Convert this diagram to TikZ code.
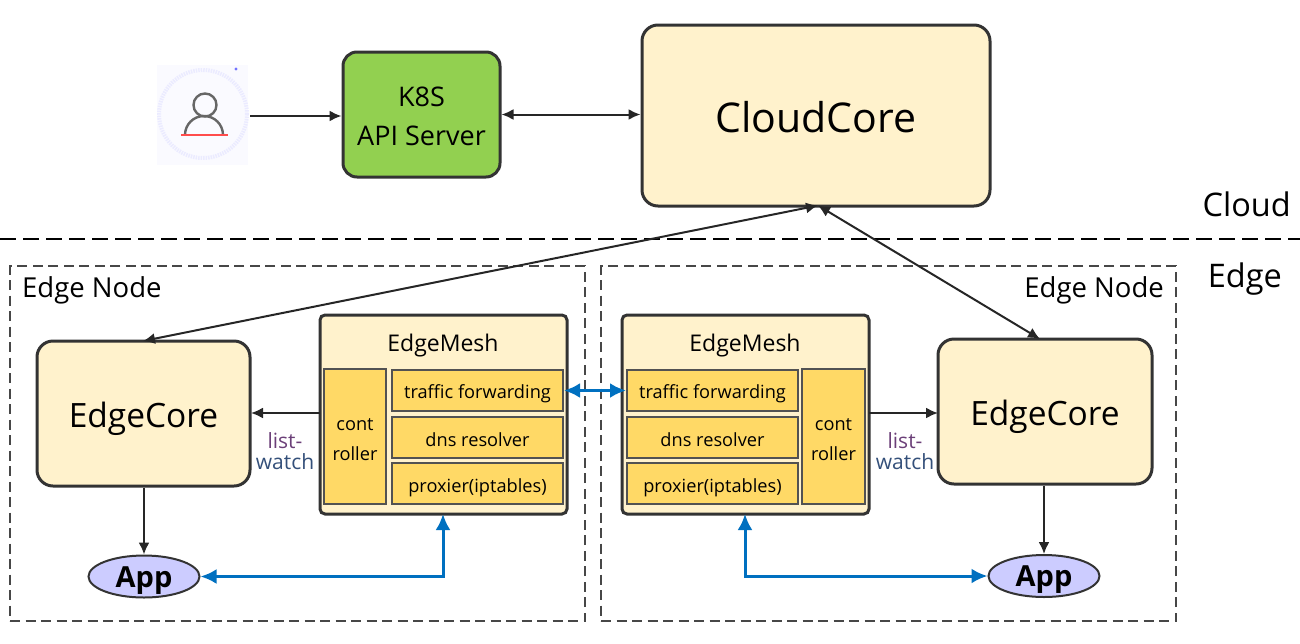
\documentclass[tikz,border=0pt]{standalone}
\usepackage{fontspec}
\setmainfont{Open Sans}
\usetikzlibrary{arrows.meta,shapes.geometric}
\definecolor{cream}{HTML}{FFF2CC}
\definecolor{gold}{HTML}{FFD966}
\definecolor{kgreen}{HTML}{92D050}
\definecolor{appblue}{HTML}{CCCCFF}
\definecolor{dk}{HTML}{333333}
\definecolor{mblue}{HTML}{0070C0}
\definecolor{lwa}{HTML}{6B3F78}
\definecolor{lwb}{HTML}{34507A}
\newcommand{\dnx}[2]{\raisebox{-#1pt}[\height][\depth]{#2}}
\tikzset{
  x=1pt,y=-1pt,
  corebox/.style={draw=dk,line width=3pt,rounded corners=16pt,fill=cream,text=black,align=center,inner sep=0pt},
  meshbox/.style={draw=dk,line width=3pt,rounded corners=5pt,fill=cream,inner sep=0pt},
  part/.style={draw=dk!85,line width=2pt,fill=gold,inner sep=0pt,align=center,font=\fontsize{18.2}{29}\selectfont},
  nodearea/.style={draw=dk!90,line width=1.7pt,dash pattern=on 10pt off 5.5pt,inner sep=0pt},
  appnode/.style={draw=dk,line width=2pt,ellipse,fill=appblue,inner sep=0pt,minimum width=111pt,minimum height=42pt,font=\fontsize{29}{34}\selectfont\bfseries},
  arr/.style={draw=black!85,line width=2pt,-{Latex[length=12pt,width=11pt]}},
  darr/.style={draw=black!85,line width=2pt,{Latex[length=12pt,width=11pt]}-{Latex[length=12pt,width=11pt]}},
  barr/.style={draw=mblue,line width=3pt,{Latex[length=16pt,width=15pt]}-{Latex[length=16pt,width=15pt]}},
  biglbl/.style={inner sep=0pt,font=\fontsize{32.5}{38}\selectfont},
  lbl/.style={inner sep=0pt,font=\fontsize{27.5}{32}\selectfont},
  mtitle/.style={inner sep=0pt,font=\fontsize{23}{28}\selectfont},
  lw/.style={inner sep=0pt,align=center,font=\fontsize{21}{21}\selectfont},
}
\begin{document}
\begin{tikzpicture}
\useasboundingbox (0,0) rectangle (1300,643);
% user icon
\fill[fill=blue!2] (157,65) rectangle (248,165);
\draw[blue!8,line width=4pt,dash pattern=on 1.5pt off 1pt] (203,114) circle (44);
\fill[blue!55!white] (236,69) circle (1.6);
\draw[black!60,line width=2.4pt] (205,105) circle (11.5);
\draw[black!60,line width=2.4pt] (185,135) arc[start angle=180,end angle=360,radius=19];
\draw[red!70,line width=2.2pt] (181,135) -- (228,135);
\coordinate (userout) at (250,116);
% cloud
\node[corebox,rounded corners=14pt,fill=kgreen,minimum width=157pt,minimum height=125pt,font=\fontsize{27}{39}\selectfont] (k8s) at (421.5,114.5) {\dnx{2}{K8S}\\\dnx{2}{API Server}};
\node[corebox,minimum width=348pt,minimum height=181pt,font=\fontsize{41}{48}\selectfont] (cloud) at (816,115.5) {\dnx{2}{CloudCore}};
\node[biglbl,anchor=base east] (cloudlbl) at (1291,216) {Cloud};
\node[biglbl,anchor=base east] (edgelbl) at (1282,287) {Edge};
\coordinate (divl) at (0,239);
\coordinate (divr) at (1300,239);
\draw[black,line width=2.6pt,dash pattern=on 16pt off 7pt] (divl) -- (divr);
% edge areas
\node[nodearea,minimum width=575pt,minimum height=355pt] (areal) at (297.5,443.5) {};
\node[nodearea,minimum width=575pt,minimum height=355pt] (arear) at (888.5,443.5) {};
\node[lbl,anchor=base west] (enl) at (22,297) {Edge Node};
\node[lbl,anchor=base east] (enr) at (1164,297) {Edge Node};
% edgecores
\node[corebox,minimum width=213pt,minimum height=145pt,font=\fontsize{33.5}{40}\selectfont] (ecl) at (143.5,413.5) {\dnx{5}{EdgeCore}};
\node[corebox,minimum width=214pt,minimum height=145pt,font=\fontsize{33.5}{40}\selectfont] (ecr) at (1045,411.5) {\dnx{5}{EdgeCore}};
% edgemesh left
\node[meshbox,minimum width=247pt,minimum height=199pt] (eml) at (443.5,414.5) {};
\node[mtitle] (emlt) at (443,346) {EdgeMesh};
\node[part,minimum width=62pt,minimum height=135pt] (ctl) at (355,436.5) {\dnx{3}{cont}\\\dnx{4}{roller}};
\node[part,minimum width=171pt,minimum height=41pt] (tfl) at (477.5,390.5) {\dnx{3}{traffic forwarding}};
\node[part,minimum width=171pt,minimum height=41pt] (dnl) at (477.5,437.5) {\dnx{2}{dns resolver}};
\node[part,minimum width=171pt,minimum height=41pt] (prl) at (477.5,483.5) {\dnx{4}{proxier(iptables)}};
% edgemesh right
\node[meshbox,minimum width=247pt,minimum height=199pt] (emr) at (745.5,414.5) {};
\node[mtitle] (emrt) at (745,346) {EdgeMesh};
\node[part,minimum width=171pt,minimum height=41pt] (tfr) at (712.5,390.5) {\dnx{3}{traffic forwarding}};
\node[part,minimum width=171pt,minimum height=41pt] (dnr) at (712.5,437.5) {\dnx{2}{dns resolver}};
\node[part,minimum width=171pt,minimum height=41pt] (prr) at (712.5,483.5) {\dnx{4}{proxier(iptables)}};
\node[part,minimum width=63pt,minimum height=135pt] (ctr) at (833.5,436.5) {\dnx{3}{cont}\\\dnx{4}{roller}};
% list-watch
\node[lw] (lwl) at (285,451) {\textcolor{lwa}{list-}\\\textcolor{lwb}{watch}};
\node[lw] (lwr) at (905,451) {\textcolor{lwa}{list-}\\\textcolor{lwb}{watch}};
% apps
\node[appnode] (appl) at (144,576.5) {\dnx{4}{App}};
\node[appnode] (appr) at (1044,576) {\dnx{4}{App}};
% connectors
\coordinate (k8sin) at (k8s.west |- userout);
\draw[arr] (userout) -- (k8sin);
\coordinate (k8sr) at (k8s.east);
\coordinate (cll) at (cloud.west |- k8sr);
\draw[darr] (k8sr) -- (cll);
\coordinate (cb) at (818,205.5);
\coordinate (ecltop) at (143,341);
\coordinate (ecrtop) at (1040,339);
\draw[darr] (cb) -- (ecltop);
\draw[darr] (cb) -- (ecrtop);
\coordinate (emlw) at (320,413);
\coordinate (eclin) at (251,413);
\draw[arr] (emlw) -- (eclin);
\coordinate (emre) at (869,413);
\coordinate (ecrin) at (938,413);
\draw[arr] (emre) -- (ecrin);
\draw[arr] (appl.north |- ecl.south) -- (appl.north);
\draw[arr] (appr.north |- ecr.south) -- (appr.north);
\draw[barr] (tfl.east) -- (tfr.west);
\coordinate (emlb) at (443,514);
\coordinate (emrb) at (745,514);
\draw[barr] (appl.east) -- (appl.east -| emlb) -- (emlb);
\draw[barr] (appr.west) -- (appr.west -| emrb) -- (emrb);
\end{tikzpicture}
\end{document}
